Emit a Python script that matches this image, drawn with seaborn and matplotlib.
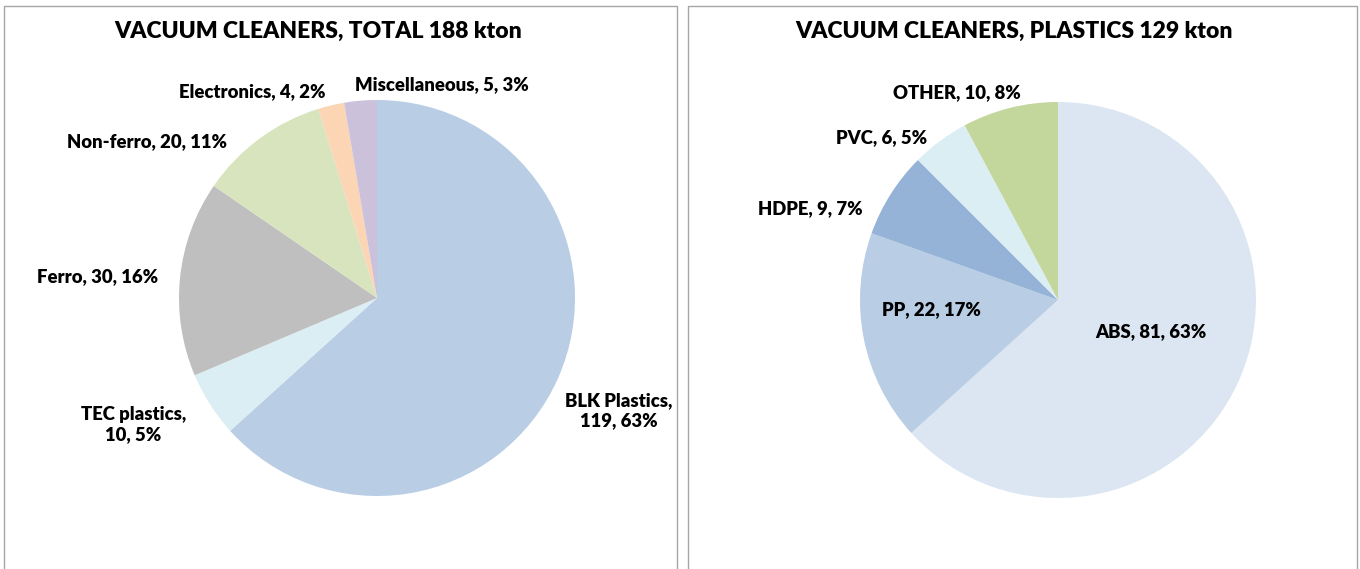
import matplotlib
matplotlib.use('Agg')
import matplotlib.pyplot as plt
import seaborn as sns
from matplotlib.patches import Rectangle

# data
total_labels = ['BLK Plastics', 'TEC plastics', 'Ferro', 'Non-ferro', 'Electronics', 'Miscellaneous']
total_values = [119, 10, 30, 20, 4, 5]
total_pct = [63, 5, 16, 11, 2, 3]
total_colors = ['#B9CDE5', '#DBEEF4', '#BFBFBF', '#D7E4BD', '#FCD5B5', '#CCC1DA']

plastic_labels = ['ABS', 'PP', 'HDPE', 'PVC', 'OTHER']
plastic_values = [81, 22, 9, 6, 10]
plastic_pct = [63, 17, 7, 5, 8]
plastic_colors = ['#DCE6F2', '#B9CDE5', '#95B3D7', '#DBEEF4', '#C3D69B']

# label placement (in pie radii from centre), like excel's best fit
total_label_pos = [(1.22, -0.57), (-1.23, -0.64), (-1.41, 0.11), (-1.16, 0.79), (-0.63, 1.04), (0.33, 1.08)]
total_wrap = [True, True, False, False, False, False]
plastic_label_pos = [(0.47, -0.16), (-0.64, -0.05), (-1.25, 0.46), (-0.89, 0.82), (-0.51, 1.05)]

sns.set_theme(style="white")
plt.rcParams['font.family'] = ['Lato', 'DejaVu Sans']
plt.rcParams['text.color'] = 'black'

W, H = 1360, 569
fig = plt.figure(figsize=(13.6, 5.69), dpi=100)

R = 198.0  # pie radius in pixels


def make_axes(left, right, cx, cy):
    # axes covering a panel, scaled so one data unit = R pixels
    ax = fig.add_axes([left / W, 0, (right - left) / W, 1.0])
    return ax, ((left - cx) / R, (right - cx) / R), (-(H - cy) / R, cy / R)


def draw_pie(ax, xlim, ylim, values, colors, names, pct, pos, wrap):
    ax.pie(values, colors=colors, startangle=90, counterclock=False,
           wedgeprops=dict(linewidth=0))
    for v, n, p, (x, y), w in zip(values, names, pct, pos, wrap):
        sep = ',\n' if w else ', '
        ax.text(x, y, f'{n}{sep}{v}, {p}%', ha='center', va='center',
                fontsize=13.3, fontweight='heavy', color='black', linespacing=1.2)
    ax.set_aspect('auto')
    ax.set_xlim(*xlim)
    ax.set_ylim(*ylim)
    ax.axis('off')


ax1, xl1, yl1 = make_axes(4, 677, 377, 298)
draw_pie(ax1, xl1, yl1, total_values, total_colors, total_labels, total_pct,
         total_label_pos, total_wrap)
ax2, xl2, yl2 = make_axes(688, 1357, 1058, 300)
draw_pie(ax2, xl2, yl2, plastic_values, plastic_colors, plastic_labels, plastic_pct,
         plastic_label_pos, [False] * 5)

# panel frames
for x0, x1 in [(4, 677), (688, 1357)]:
    fig.patches.append(Rectangle((x0 / W, -0.01), (x1 - x0) / W, 1 - 6 / H + 0.01,
                                 transform=fig.transFigure, fill=False,
                                 edgecolor='#A6A6A6', linewidth=1.0))

fig.text(318 / W, 1 - 31 / H, 'VACUUM CLEANERS, TOTAL 188 kton', ha='center', va='center',
         fontsize=16.5, fontweight='heavy', color='black')
fig.text(1014 / W, 1 - 31 / H, 'VACUUM CLEANERS, PLASTICS 129 kton', ha='center', va='center',
         fontsize=16.5, fontweight='heavy', color='black')

fig.savefig('out.png', dpi=100, facecolor='white')
